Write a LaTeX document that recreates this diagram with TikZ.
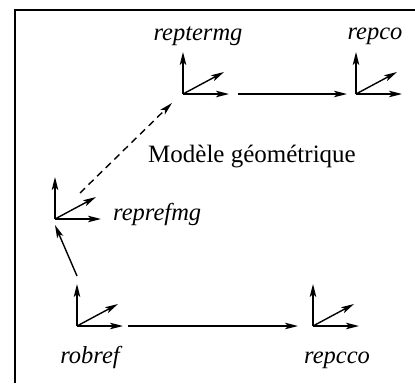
\documentclass[tikz,border=0pt]{standalone}
\usepackage{fontspec}
\setmainfont{Liberation Serif}
\usetikzlibrary{arrows.meta}
\begin{document}
\begin{tikzpicture}[x=1pt,y=-1pt,
  arr/.style={line width=1.4pt,-{Stealth[length=13pt,width=6.5pt,inset=3pt]}},
  lbl/.style={font=\fontsize{24.5}{29}\selectfont\itshape,inner sep=0pt},
  ttl/.style={font=\fontsize{25}{30}\selectfont,inner sep=0pt}]
\useasboundingbox (0,0) rectangle (415,383);
\draw[line width=1.4pt] (15,383) -- (15,10) -- (415,10);
% frame origins
\coordinate (reptermg) at (183,94);
\coordinate (repco) at (356,94);
\coordinate (reprefmg) at (55,219);
\coordinate (robref) at (77,326);
\coordinate (repcco) at (313,326);
% axes
\foreach \f in {reptermg,repco,reprefmg,robref,repcco}{
  \draw[arr] (\f) -- ++(0,-42);
  \draw[arr] (\f) -- ++(46,0);
  \draw[arr] (\f) -- ++(41,-22);
}
% labels
\node[lbl] (lreptermg) at (198,36) {reptermg};
\node[lbl] (lrepco) at (375,36) {repco};
\node[lbl,anchor=west] (lreprefmg) at (113,214) {reprefmg};
\node[lbl] (lrobref) at (90,357) {robref};
\node[lbl] (lrepcco) at (337,360) {repcco};
\node[ttl] (title) at (252,157) {Modèle géométrique};
% connectors
\draw[arr] ([xshift=55pt]reptermg) -- ([xshift=-9pt]repco);
\draw[arr,dash pattern=on 7pt off 5pt] ([xshift=25pt,yshift=26pt]reprefmg) -- ([xshift=-11pt,yshift=-9pt]reptermg);
\draw[arr] ([yshift=50pt]robref) -- ([yshift=-6pt]reprefmg);
\draw[arr] ([xshift=51pt]robref) -- ([xshift=-15pt]repcco);
\end{tikzpicture}
\end{document}
